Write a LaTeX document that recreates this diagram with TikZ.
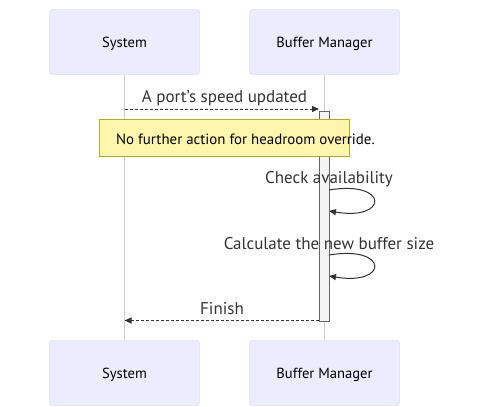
\documentclass[tikz,border=0pt]{standalone}
\usepackage{fontspec}
\setmainfont{PT Sans}
\usetikzlibrary{arrows.meta}
\definecolor{actfill}{HTML}{ECECFF}
\definecolor{actline}{HTML}{CCCCFF}
\definecolor{txt}{HTML}{333333}
\definecolor{notefill}{HTML}{FFF5AD}
\definecolor{noteline}{HTML}{AAAA33}
\definecolor{lifegray}{HTML}{CCCCCC}
\definecolor{actvfill}{HTML}{F4F4F4}
\definecolor{actvline}{HTML}{666666}
\begin{document}
\begin{tikzpicture}[x=1pt,y=-1pt,
  actorbox/.style={draw=actline, fill=actfill, rounded corners=3pt, minimum width=150pt, minimum height=65pt, inner sep=0pt, text height=12pt, text depth=2pt, font=\fontsize{14.6}{16}\selectfont, text=black},
  lifeln/.style={draw=lifegray, line width=0.6pt},
  actvbox/.style={draw=actvline, fill=actvfill, minimum width=10pt, minimum height=210pt, inner sep=0pt, line width=0.6pt},
  notebox/.style={draw=noteline, fill=notefill, minimum width=250pt, minimum height=37pt, inner sep=0pt, line width=0.6pt},
  msglabel/.style={font=\fontsize{17}{19}\selectfont, text=txt, inner sep=0pt},
  notelabel/.style={font=\fontsize{14.9}{16}\selectfont, text=black, inner sep=0pt},
  msgline/.style={draw=txt, line width=1pt, dash pattern=on 3pt off 2pt, -{Triangle[length=7pt,width=6pt]}},
  selfline/.style={draw=txt, line width=1pt, -{Triangle[length=7pt,width=6pt]}}
]
\useasboundingbox (0,0) rectangle (485,407);
\node[actorbox] (s1) at (124.5,42) {System};
\node[actorbox] (b1) at (324.5,42) {Buffer Manager};
\node[actorbox] (s2) at (124.5,373) {System};
\node[actorbox] (b2) at (324.5,373) {Buffer Manager};
\draw[lifeln] (s1) -- (s2);
\draw[lifeln] (b1) -- (b2);
\node[actvbox] (act) at (324,216) {};
% message 1
\coordinate (m1a) at (124.5,109);
\coordinate (m1b) at (319,109);
\draw[msgline] (m1a) -- (m1b);
\node[msglabel] (l1) at (224.5,98.5) {A port's speed updated};
% note
\node[notebox] (note) at (224,137.5) {};
\node[notelabel, anchor=west] (notet) at (116,139) {No further action for headroom override.};
% self loop 1
\node[msglabel] (l2) at (329,179.5) {Check availability};
\coordinate (c1a) at (329,190);
\coordinate (c1b) at (329,211);
\draw[selfline] (c1a) .. controls +(60,-10) and +(60,10) .. (c1b);
% self loop 2
\node[msglabel] (l3) at (329,244) {Calculate the new buffer size};
\coordinate (c2a) at (329,255);
\coordinate (c2b) at (329,276);
\draw[selfline] (c2a) .. controls +(60,-10) and +(60,10) .. (c2b);
% finish
\coordinate (m4a) at (319,320.5);
\coordinate (m4b) at (124.5,320.5);
\draw[msgline] (m4a) -- (m4b);
\node[msglabel] (l4) at (222,309) {Finish};
\end{tikzpicture}
\end{document}
